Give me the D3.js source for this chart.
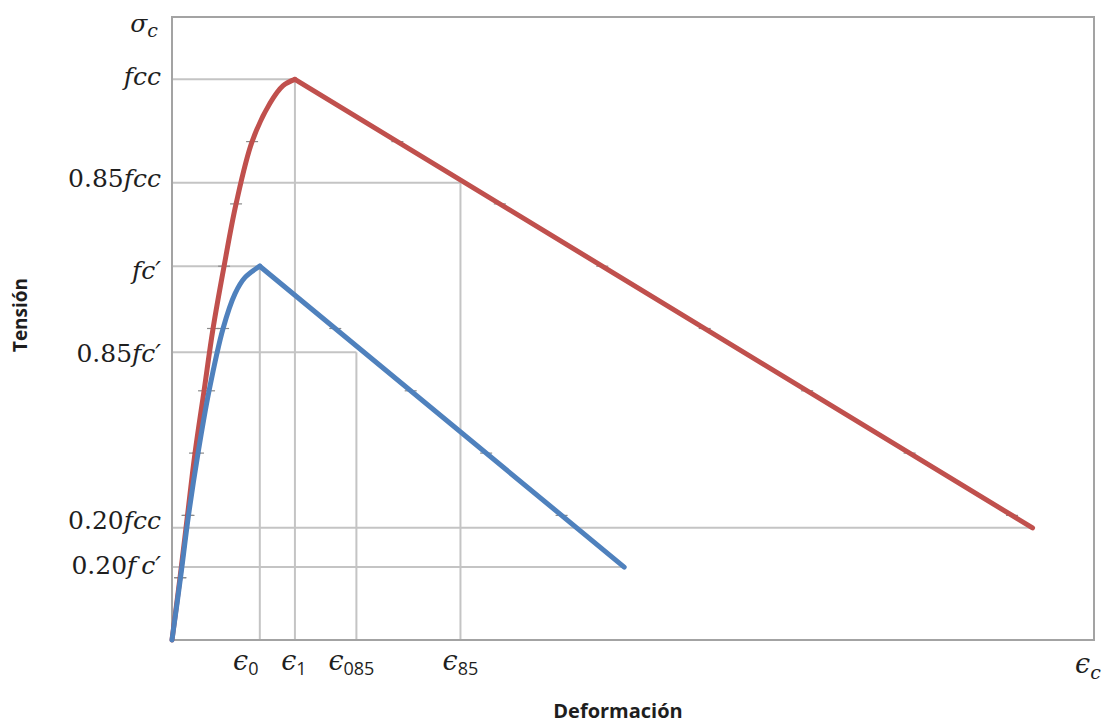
<!DOCTYPE html>
<html>
<head>
<meta charset="utf-8">
<script src="https://cdn.jsdelivr.net/npm/d3@7"></script>
<style>
  html, body { margin: 0; padding: 0; background: #fff; }
  svg { display: block; }
</style>
</head>
<body>
<svg id="chart" width="1107" height="724"></svg>
<script>
// Stress–strain curves: confined (red) and unconfined (blue) concrete.
// Strain is dimensionless, stress in MPa.

// Confined concrete: ascending branch then linear softening
const confinedUpStrain = [0, 0.000182, 0.000353, 0.000524, 0.00073, 0.000935, 0.001186, 0.001459, 0.001824, 0.002234, 0.002531, 0.0028];
const confinedUpStress = [0, 5, 10, 15, 20, 25, 30, 35, 40, 43.1, 44.5, 45];
const confinedDownStrain = [0.0028, 0.0196];
const confinedDownStress = [45, 9.0];

// Unconfined concrete
const unconfinedUpStrain = [0, 0.000194, 0.000376, 0.000593, 0.000844, 0.001163, 0.001436, 0.001664, 0.002];
const unconfinedUpStress = [0, 5, 10, 15, 20, 25, 27.8, 29.1, 30];
const unconfinedDownStrain = [0.002, 0.0103];
const unconfinedDownStress = [30, 5.85];

// Axis extents
const strainMax = 0.021;
const stressMax = 50;

// Marked strains along the horizontal axis
const xTickValues = [0.002, 0.0028, 0.0042, 0.00657];
const xTickSubs = ["0", "1", "085", "85"];

// Marked stresses along the vertical axis
const yTickValues = [45, 36.7, 30, 23.1, 9.0, 5.85];
const yTickPrefix = ["", "0.85", "", "0.85", "0.20", "0.20"];
const yTickSymbol = ["fcc", "fcc", "fc\u2032", "fc\u2032", "fcc", "f\u2009c\u2032"];

// Reference lines: corner point and whether a vertical drop is drawn
const guideStrain = [0.0028, 0.00657, 0.002, 0.0042, 0.0196, 0.0103];
const guideStress = [45, 36.7, 30, 23.1, 9.0, 5.85];
const guideDrop = [true, true, true, true, false, false];

// Old gridline levels that still show beside the curves
const gridLevels = [5, 10, 15, 20, 25, 30, 35, 40];

const svg = d3.select("#chart");
const plotLeft = 172, plotRight = 1094, plotTop = 17, plotBottom = 640;

const x = d3.scaleLinear().domain([0, strainMax]).range([plotLeft, plotRight]);
const y = d3.scaleLinear().domain([0, stressMax]).range([plotBottom, plotTop]);

const RED = "#c0504d", BLUE = "#4f81bd";
const GUIDE = "#c4c4c4", FRAME = "#a3a3a3", TEXT = "#1e1e1e";

// Reference lines
const guides = d3.range(guideStrain.length).map(i => ({sx: guideStrain[i], sy: guideStress[i], drop: guideDrop[i]}));
const gG = svg.append("g").attr("stroke", GUIDE).attr("stroke-width", 2).attr("fill", "none");
gG.selectAll("line.h").data(guides).join("line")
  .attr("class", "h")
  .attr("x1", x(0)).attr("x2", d => x(d.sx))
  .attr("y1", d => y(d.sy)).attr("y2", d => y(d.sy));
gG.selectAll("line.v").data(guides.filter(d => d.drop)).join("line")
  .attr("class", "v")
  .attr("x1", d => x(d.sx)).attr("x2", d => x(d.sx))
  .attr("y1", d => y(d.sy)).attr("y2", y(0));

// Frame of the plot area
svg.append("rect")
  .attr("x", plotLeft).attr("y", plotTop)
  .attr("width", plotRight - plotLeft).attr("height", plotBottom - plotTop)
  .attr("fill", "none").attr("stroke", FRAME).attr("stroke-width", 2);

// Short gridline stubs where each curve crosses a grid level
function crossings(xs, ys) {
  const out = [];
  gridLevels.forEach(lv => {
    for (let i = 0; i < xs.length - 1; i++) {
      const a = ys[i], b = ys[i + 1];
      if ((a - lv) * (b - lv) < 0 || (a === lv && i > 0)) {
        const t = (lv - a) / (b - a);
        out.push({sx: xs[i] + t * (xs[i + 1] - xs[i]), sy: lv});
        break;
      }
    }
  });
  return out;
}
const series = [
  {up: [confinedUpStrain, confinedUpStress], down: [confinedDownStrain, confinedDownStress], color: RED},
  {up: [unconfinedUpStrain, unconfinedUpStress], down: [unconfinedDownStrain, unconfinedDownStress], color: BLUE}
];
const stubs = [];
series.forEach(s => {
  stubs.push(...crossings(s.up[0], s.up[1]));
  stubs.push(...crossings(s.down[0], s.down[1]));
});
svg.append("g").selectAll("line").data(stubs).join("line")
  .attr("x1", d => x(d.sx) - 6).attr("x2", d => x(d.sx) + 6)
  .attr("y1", d => y(d.sy)).attr("y2", d => y(d.sy))
  .attr("stroke", "#8a8a8a").attr("stroke-width", 1.2);

// Curves: the rising branch is a centripetal Catmull–Rom spline through the readings
const upLine = d3.line().x(d => x(d[0])).y(d => y(d[1])).curve(d3.curveCatmullRom.alpha(0.5));
const downLine = d3.line().x(d => x(d[0])).y(d => y(d[1]));
series.forEach(s => {
  const up = s.up[0].map((v, i) => [v, s.up[1][i]]);
  const down = s.down[0].map((v, i) => [v, s.down[1][i]]);
  svg.append("path").attr("d", upLine(up))
    .attr("fill", "none").attr("stroke", s.color).attr("stroke-width", 5)
    .attr("stroke-linecap", "round").attr("stroke-linejoin", "round");
  svg.append("path").attr("d", downLine(down))
    .attr("fill", "none").attr("stroke", s.color).attr("stroke-width", 5)
    .attr("stroke-linecap", "round").attr("stroke-linejoin", "round");
});

// Tick labels
const mathFont = "'DejaVu Serif', serif";
const yLabelNudge = [6, 4, 13, 10, 1, 7];
const yl = svg.append("g").attr("font-family", mathFont).attr("fill", TEXT).attr("font-size", 25);
yTickValues.forEach((v, i) => {
  const t = yl.append("text").attr("x", plotLeft - 11).attr("y", y(v) + yLabelNudge[i]).attr("text-anchor", "end");
  if (yTickPrefix[i]) t.append("tspan").text(yTickPrefix[i]);
  t.append("tspan").attr("font-style", "italic").text(yTickSymbol[i]);
});
// Axis symbol at the top of the stress axis
const sig = yl.append("text").attr("x", plotLeft - 14).attr("y", y(stressMax) + 15).attr("text-anchor", "end");
sig.append("tspan").attr("font-style", "italic").text("\u03C3");
sig.append("tspan").attr("font-style", "italic").attr("font-size", 19).attr("dy", 5).text("c");

const xLabelNudge = [-14, -1, -5, 0];
const xl = svg.append("g").attr("font-family", mathFont).attr("fill", TEXT);
xTickValues.forEach((v, i) => {
  const t = xl.append("text").attr("x", x(v) + xLabelNudge[i]).attr("y", 670).attr("text-anchor", "middle").attr("font-size", 27);
  t.append("tspan").attr("font-style", "italic").text("\u03F5");
  t.append("tspan").attr("font-family", "'Open Sans', sans-serif").attr("font-size", 18).attr("dy", 5).text(xTickSubs[i]);
});
// Axis symbol at the end of the strain axis
const eps = xl.append("text").attr("x", x(strainMax) - 6).attr("y", 673).attr("text-anchor", "middle").attr("font-size", 27);
eps.append("tspan").attr("font-style", "italic").text("\u03F5");
eps.append("tspan").attr("font-style", "italic").attr("font-size", 19).attr("dy", 6).text("c");

// Axis titles
svg.append("text")
  .attr("transform", "translate(27, 315) rotate(-90)")
  .attr("text-anchor", "middle")
  .attr("font-family", "'Open Sans', sans-serif").attr("font-weight", "bold").attr("font-size", 19)
  .attr("fill", TEXT).text("Tensión");
svg.append("text")
  .attr("x", 618).attr("y", 718)
  .attr("text-anchor", "middle")
  .attr("font-family", "'Open Sans', sans-serif").attr("font-weight", "bold").attr("font-size", 20)
  .attr("fill", TEXT).text("Deformación");
</script>
</body>
</html>
